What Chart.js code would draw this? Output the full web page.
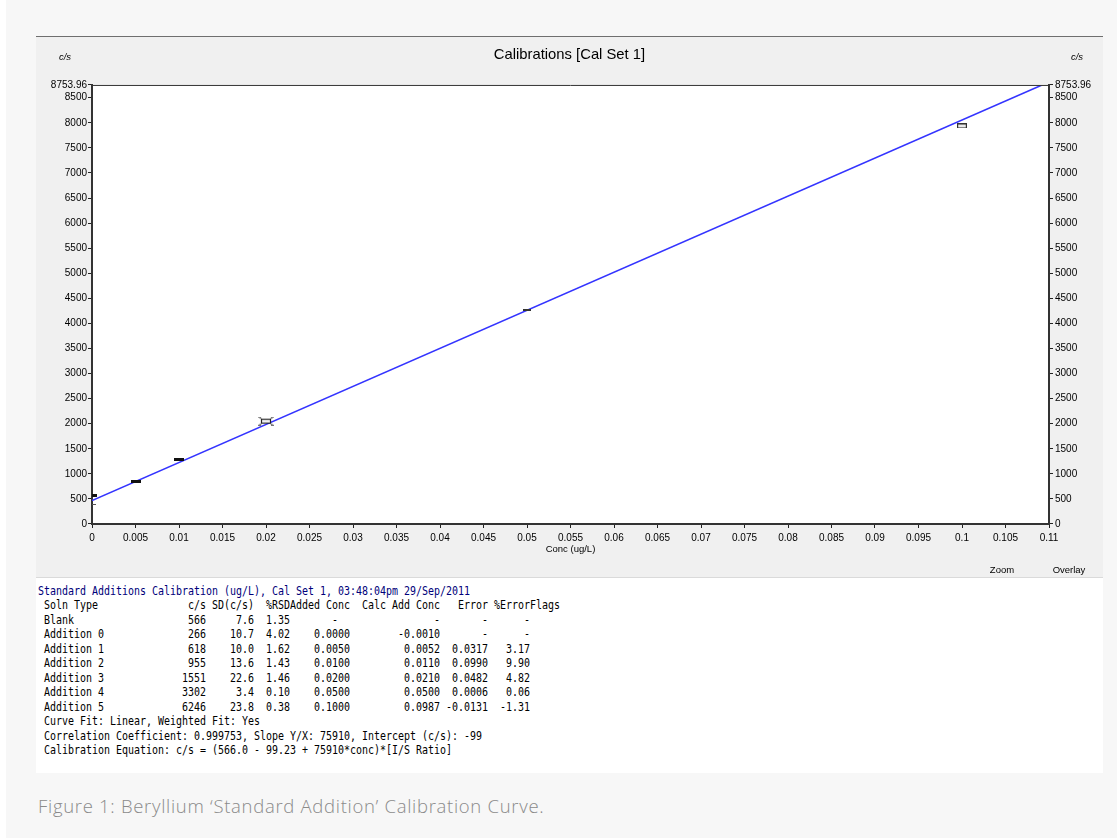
<!DOCTYPE html>
<html><head><meta charset="utf-8">
<script src="https://cdn.jsdelivr.net/npm/chart.js@4.4.0/dist/chart.umd.min.js"></script>
<style>
html,body{margin:0;padding:0;}
body{width:1117px;height:838px;background:#fff;position:relative;overflow:hidden;font-family:"Liberation Sans",Arial,sans-serif;}
#page{position:absolute;left:6px;top:0;width:1111px;height:838px;background:#f7f7f7;}
#win{position:absolute;left:36px;top:36px;width:1067px;height:541px;background:#f0f0f0;border-top:1px solid #6f6f6f;}
#cwrap{position:absolute;left:36px;top:37px;width:1067px;height:540px;}
#sep{position:absolute;left:36px;top:577px;width:1067px;height:1px;background:#dadada;}
#tbl{position:absolute;left:36px;top:578px;width:1067px;height:195px;background:#fff;overflow:hidden;}
#tbl pre{margin:0;position:absolute;left:2px;top:6px;font-family:"DejaVu Sans Mono",monospace;font-size:12px;line-height:14.45px;color:#000;transform:scaleX(0.8306);transform-origin:0 0;}
#tbl .hd{color:#00007a;}
.lbl{position:absolute;font-size:9.5px;color:#000;white-space:nowrap;transform:translate(-50%,-50%);}
#caption{position:absolute;left:38px;top:793px;font-family:"Open Sans","Lato",sans-serif;font-weight:300;font-size:18.5px;letter-spacing:0.7px;color:#8a8a8a;white-space:nowrap;}
</style>
</head><body>
<div id="page"></div>
<div id="win"></div>
<div id="cwrap"><canvas id="c" width="1067" height="540"></canvas></div>
<div class="lbl" style="left:65px;top:56px;font-style:italic;">c/s</div>
<div class="lbl" style="left:1077px;top:56px;font-style:italic;">c/s</div>
<div class="lbl" style="left:1002px;top:569px;">Zoom</div>
<div class="lbl" style="left:1069px;top:569px;">Overlay</div>
<div id="sep"></div>
<div id="tbl"><pre id="tpre"></pre></div>
<div id="caption">Figure 1: Beryllium ‘Standard Addition’ Calibration Curve.</div>
<script>
// ---- chart data ----
const xTicks = [0,0.005,0.01,0.015,0.02,0.025,0.03,0.035,0.04,0.045,0.05,0.055,0.06,0.065,0.07,0.075,0.08,0.085,0.09,0.095,0.1,0.105,0.11];
const xTickLabels = ['0','0.005','0.01','0.015','0.02','0.025','0.03','0.035','0.04','0.045','0.05','0.055','0.06','0.065','0.07','0.075','0.08','0.085','0.09','0.095','0.1','0.105','0.11'];
const yTicks = [0,500,1000,1500,2000,2500,3000,3500,4000,4500,5000,5500,6000,6500,7000,7500,8000,8500,8753.96];
const yTickLabels = ['0','500','1000','1500','2000','2500','3000','3500','4000','4500','5000','5500','6000','6500','7000','7500','8000','8500','8753.96'];
const calConc   = [0, 0, 0.005, 0.01, 0.02, 0.05, 0.1];
const calSignal = [564, 393, 850, 1290, 2050, 4265, 7936];
const fitConc   = [0, 0.1092];
const fitSignal = [467, 8753.96];

// ---- table data ----
const tableTitle = 'Standard Additions Calibration (ug/L), Cal Set 1, 03:48:04pm 29/Sep/2011';
const solnNames = ['Blank','Addition 0','Addition 1','Addition 2','Addition 3','Addition 4','Addition 5'];
const solnCps   = ['566','266','618','955','1551','3302','6246'];
const solnSD    = ['7.6','10.7','10.0','13.6','22.6','3.4','23.8'];
const solnRSD   = ['1.35','4.02','1.62','1.43','1.46','0.10','0.38'];
const addedConc = ['-','0.0000','0.0050','0.0100','0.0200','0.0500','0.1000'];
const calcConc  = ['-','-0.0010','0.0052','0.0110','0.0210','0.0500','0.0987'];
const errorVals = ['-','-','0.0317','0.0990','0.0482','0.0006','-0.0131'];
const pctError  = ['-','-','3.17','9.90','4.82','0.06','-1.31'];
const footerLines = [
  ' Curve Fit: Linear, Weighted Fit: Yes',
  ' Correlation Coefficient: 0.999753, Slope Y/X: 75910, Intercept (c/s): -99',
  ' Calibration Equation: c/s = (566.0 - 99.23 + 75910*conc)*[I/S Ratio]'
];

// build table text
(function(){
  const esc = s => s.replace(/&/g,'&amp;').replace(/</g,'&lt;');
  const lines = [];
  lines.push('<span class="hd">'+esc(tableTitle)+'</span>');
  lines.push(esc(' Soln Type'.padEnd(25)+'c/s'+' SD(c/s)'+'  %RSD'+'Added Conc'+'  Calc Add Conc'+'   Error'+' %ErrorFlags'));
  for(let i=0;i<solnNames.length;i++){
    const added = addedConc[i]==='-' ? '-'.padStart(8).padEnd(10) : addedConc[i].padStart(10);
    lines.push(esc((' '+solnNames[i]).padEnd(24)+solnCps[i].padStart(4)+solnSD[i].padStart(8)+solnRSD[i].padStart(6)+added+calcConc[i].padStart(15)+errorVals[i].padStart(8)+pctError[i].padStart(7)));
  }
  footerLines.forEach(l=>lines.push(esc(l)));
  document.getElementById('tpre').innerHTML = lines.join('\n');
})();

// ---- marker images ----
function mk(w,h,draw){const c=document.createElement('canvas');c.width=w;c.height=h;draw(c.getContext('2d'));return c;}
const solidBar = mk(10,3,g=>{g.fillStyle='#111';g.fillRect(0,0,10,3);});
const hollowBar = mk(10,5,g=>{g.fillStyle='#fff';g.fillRect(0,0,10,5);g.strokeStyle='#333';g.lineWidth=1.2;g.strokeRect(0.6,0.6,8.8,3.8);});
const thinBar = mk(8,2,g=>{g.fillStyle='#333';g.fillRect(0,0,8,2);});
const dashMark = mk(8,1,g=>{g.fillStyle='#555';g.fillRect(0,0,8,1);});
const errMark = mk(16,9,g=>{
  g.strokeStyle='#777';g.lineWidth=1;
  g.beginPath();g.moveTo(0.5,0.5);g.lineTo(15.5,8.5);g.moveTo(0.5,8.5);g.lineTo(15.5,0.5);
  g.moveTo(0,0.5);g.lineTo(3,0.5);g.moveTo(13,0.5);g.lineTo(16,0.5);
  g.moveTo(0,8.5);g.lineTo(3,8.5);g.moveTo(13,8.5);g.lineTo(16,8.5);g.stroke();
  g.fillStyle='#fff';g.fillRect(3,2.5,10,4);
  g.strokeStyle='#222';g.lineWidth=1.2;g.strokeRect(3.5,2.6,9,3.8);
});
const markerStyles = [solidBar, dashMark, solidBar, solidBar, errMark, thinBar, hollowBar];

const plotFrame = {
  id:'plotFrame',
  beforeDraw(chart){const a=chart.chartArea,g=chart.ctx;g.save();g.fillStyle='#fff';g.fillRect(a.left,a.top,a.right-a.left,a.bottom-a.top);g.restore();},
  afterDraw(chart){const a=chart.chartArea,g=chart.ctx;g.save();g.strokeStyle='#333';g.lineWidth=1;g.beginPath();g.moveTo(a.left,a.top+0.5);g.lineTo(a.right,a.top+0.5);g.stroke();g.restore();}
};

const tickFont = {family:'"Liberation Sans", Arial, sans-serif', size:10};
function yAxis(pos, width, pad){
  return {
    type:'linear', position:pos, min:0, max:8753.96,
    afterBuildTicks:s=>{s.ticks=yTicks.map(v=>({value:v}));},
    afterFit:s=>{s.width=width;},
    ticks:{autoSkip:false,font:tickFont,color:'#000',padding:pad,callback:(v,i)=>yTickLabels[i]},
    grid:{drawOnChartArea:false,drawTicks:true,tickLength:4,color:'#222',lineWidth:1},
    border:{display:true,color:'#333',width:2}
  };
}

new Chart(document.getElementById('c'),{
  type:'scatter',
  data:{datasets:[
    {type:'line',data:fitConc.map((x,i)=>({x:x,y:fitSignal[i]})),borderColor:'#3434ff',borderWidth:1.5,pointRadius:0,fill:false,tension:0,yAxisID:'y',order:2},
    {data:calConc.map((x,i)=>({x:x,y:calSignal[i]})),pointStyle:markerStyles,pointRadius:5,yAxisID:'y',order:1}
  ]},
  options:{
    responsive:false,animation:false,devicePixelRatio:1,
    layout:{padding:0},
    plugins:{
      legend:{display:false},tooltip:{enabled:false},
      title:{display:true,text:'Calibrations [Cal Set 1]',color:'#000',font:{family:'"Liberation Sans", Arial, sans-serif',size:14.8,weight:'normal'},padding:{top:9.5,bottom:20.7}}
    },
    scales:{
      x:{
        type:'linear',position:'bottom',min:0,max:0.11,
        afterBuildTicks:s=>{s.ticks=xTicks.map(v=>({value:v}));},
        afterFit:s=>{s.height=53;},
        ticks:{autoSkip:false,maxRotation:0,font:tickFont,color:'#000',padding:4,callback:(v,i)=>xTickLabels[i]},
        grid:{drawOnChartArea:false,drawTicks:true,tickLength:4,color:'#222',lineWidth:1},
        border:{display:true,color:'#333',width:2},
        title:{display:true,text:'Conc (ug/L)',color:'#000',font:{family:'"Liberation Sans", Arial, sans-serif',size:9.5},padding:{top:2,bottom:22}}
      },
      y:yAxis('left',56,1),
      y2:yAxis('right',54,2)
    }
  },
  plugins:[plotFrame]
});
</script>
</body></html>
